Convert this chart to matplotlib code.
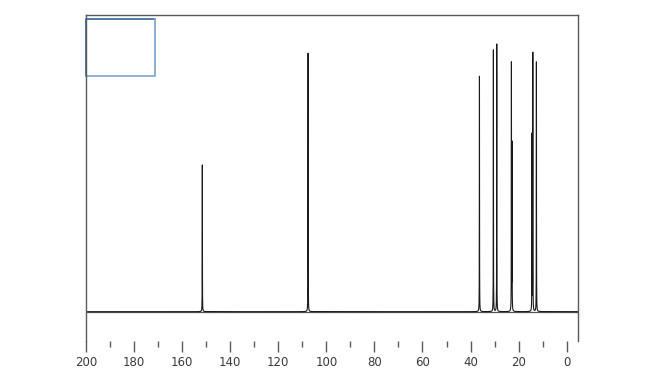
import numpy as np
import matplotlib
matplotlib.use("Agg")
import matplotlib.pyplot as plt

# peak list (ppm, relative intensity)
peak_ppm = [151.6, 107.6, 36.3, 30.5, 29.1, 23.0, 22.75, 14.1, 14.45, 12.6]
peak_int = [54.8, 96.6, 88.0, 97.8, 100.0, 92.2, 62.0, 96.3, 65.8, 93.3]
peak_width = 0.035  # lorentzian half width, ppm

x_ticks = [200, 180, 160, 140, 120, 100, 80, 60, 40, 20, 0]
x_minor = [190, 170, 150, 130, 110, 90, 70, 50, 30, 10]

frame_col = "#5a5a5a"

ppm = np.arange(-5.0, 200.0, 0.003)
spec = np.zeros_like(ppm)
for p, h in zip(peak_ppm, peak_int):
    spec += h * peak_width ** 2 / ((ppm - p) ** 2 + peak_width ** 2)

fig = plt.figure(figsize=(6.58, 3.88), dpi=100)
ax = fig.add_axes([86 / 658, 47 / 388, 492 / 658, 326 / 388])

ax.plot(ppm, spec, color="#1a1a1a", lw=0.8)
ax.set_xlim(200, -4.7)
ax.set_ylim(-10.95, 110.8)

ax.set_xticks(x_ticks)
ax.set_xticks(x_minor, minor=True)
ax.set_yticks([])
ax.tick_params(axis="x", which="major", length=8, width=1, color=frame_col,
               labelsize=8.5, labelcolor="#3a3a3a", pad=2.5)
ax.tick_params(axis="x", which="minor", length=4, width=1, color=frame_col)

for side in ["top", "left", "right"]:
    ax.spines[side].set_color(frame_col)
    ax.spines[side].set_linewidth(1)
ax.spines["bottom"].set_visible(False)

# baseline of the spectrum window
ax.axhline(0, color="#555555", lw=0.9, zorder=1)

# little overview box in the corner
x0, x1, y0, y1 = 0.001, 0.140, 0.814, 0.988
ax.plot([x0, x0, x1], [y0, y1, y1], transform=ax.transAxes, color="#3f6fa6", lw=1.3, clip_on=False)
ax.plot([x0, x1, x1], [y0, y0, y1], transform=ax.transAxes, color="#86aad3", lw=1.3, clip_on=False)

fig.savefig("out.png", dpi=100)
